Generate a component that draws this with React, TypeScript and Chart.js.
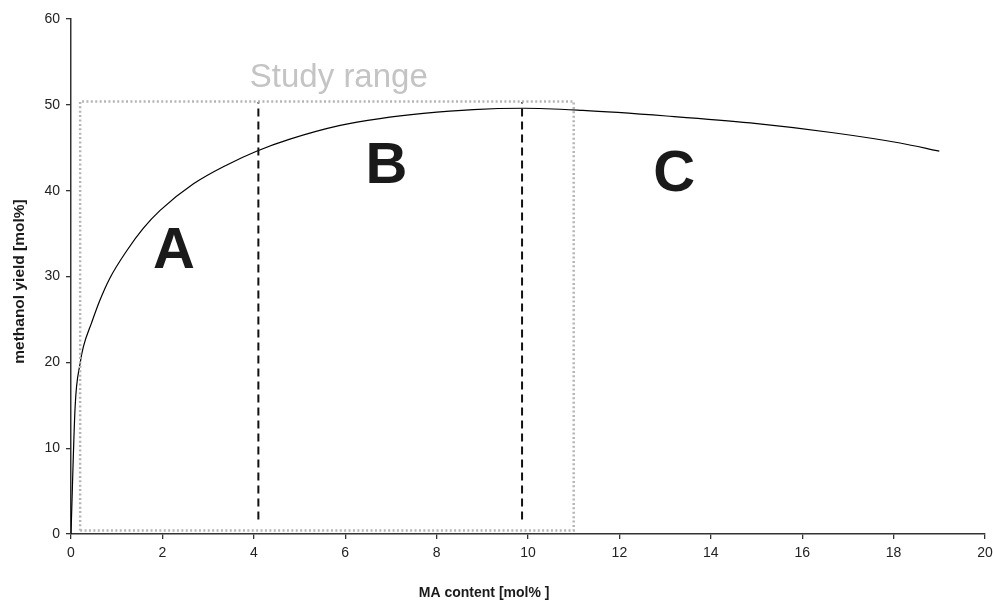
import React, { useEffect, useRef } from "react";
import { Chart, registerables } from "chart.js";

Chart.register(...registerables);

// Methanol yield versus MA content
const maContent = [0, 0.09, 0.2, 0.27, 0.45, 0.63, 0.85, 1.22, 1.58, 1.95, 2.68, 3.41, 4.06, 4.79, 5.89, 6.76, 7.71, 8.8, 9.9, 11.2, 13.03, 14.86, 16.68, 18.14, 19.0];
const methanolYield = [0, 14.8, 19.9, 21.8, 24.6, 27.2, 29.8, 33.0, 35.6, 37.7, 40.8, 43.0, 44.6, 46.0, 47.6, 48.4, 49.0, 49.45, 49.6, 49.35, 48.7, 47.9, 46.75, 45.55, 44.6];

// Boundaries between regions A/B and B/C
const regionBounds = [4.1, 9.87];
const regionLineSpan = [1.7, 50.3];

// Study range rectangle: [xMin, xMax], [yMin, yMax]
const studyRangeX = [0.2, 11];
const studyRangeY = [0.4, 50.4];

// Region labels
const regionNames = ["A", "B", "C"];
const regionLabelX = [2.25, 6.9, 13.2];
const regionLabelY = [31.0, 40.9, 40.0];

const studyLabel = "Study range";
const studyLabelPos = [5.86, 52.1];

const xTicks = [0, 2, 4, 6, 8, 10, 12, 14, 16, 18, 20];
const yTicks = [0, 10, 20, 30, 40, 50, 60];

const xTitle = "MA content [mol% ]";
const yTitle = "methanol yield [mol%]";

const FONT = "'Liberation Sans', Arial, Helvetica, sans-serif";

const annotationPlugin = {
  id: "regionText",
  afterDatasetsDraw(chart: any) {
    const { ctx, scales, chartArea } = chart;
    const xs = scales.x;
    const ys = scales.y;
    ctx.save();
    // Region letters
    ctx.fillStyle = "#1a1a1a";
    ctx.font = `bold 58px ${FONT}`;
    ctx.textAlign = "center";
    ctx.textBaseline = "alphabetic";
    regionNames.forEach((name, i) => {
      ctx.fillText(name, xs.getPixelForValue(regionLabelX[i]), ys.getPixelForValue(regionLabelY[i]));
    });
    // Study range caption
    ctx.fillStyle = "#c4c4c4";
    ctx.font = `33px ${FONT}`;
    ctx.fillText(studyLabel, xs.getPixelForValue(studyLabelPos[0]), ys.getPixelForValue(studyLabelPos[1]));
    // Axis titles
    ctx.fillStyle = "#1a1a1a";
    ctx.font = `bold 14px ${FONT}`;
    ctx.textBaseline = "middle";
    ctx.fillText(xTitle, chartArea.left + (chartArea.right - chartArea.left) * 0.452, chart.height - 8);
    ctx.save();
    ctx.translate(20, (chartArea.top + chartArea.bottom) / 2 + 5);
    ctx.rotate(-Math.PI / 2);
    ctx.font = `bold 15.5px ${FONT}`;
    ctx.fillText(yTitle, 0, 0);
    ctx.restore();
    ctx.restore();
  },
};

export default function App() {
  const canvasRef = useRef<HTMLCanvasElement>(null);

  useEffect(() => {
    if (!canvasRef.current) return;
    const curve = maContent.map((x, i) => ({ x, y: methanolYield[i] }));
    const box = [
      { x: studyRangeX[0], y: studyRangeY[0] },
      { x: studyRangeX[1], y: studyRangeY[0] },
      { x: studyRangeX[1], y: studyRangeY[1] },
      { x: studyRangeX[0], y: studyRangeY[1] },
      { x: studyRangeX[0], y: studyRangeY[0] },
    ];
    const boundaryLines = regionBounds.map((b) => ({
      data: regionLineSpan.map((y) => ({ x: b, y })),
      borderColor: "#111",
      borderWidth: 2,
      borderDash: [8, 5],
      pointRadius: 0,
      tension: 0,
      fill: false,
    }));

    const chart = new Chart(canvasRef.current, {
      type: "line",
      data: {
        datasets: [
          {
            data: box,
            borderColor: "#b5b5b5",
            borderWidth: 2.5,
            borderDash: [2, 2.4],
            pointRadius: 0,
            tension: 0,
            fill: false,
          },
          ...boundaryLines,
          {
            data: curve,
            borderColor: "#000",
            borderWidth: 1.2,
            pointRadius: 0,
            cubicInterpolationMode: "monotone",
            fill: false,
          },
        ] as any,
      },
      options: {
        animation: false,
        responsive: true,
        maintainAspectRatio: false,
        layout: { padding: { top: 19, right: 0, left: 0, bottom: 0 } },
        plugins: {
          legend: { display: false },
          tooltip: { enabled: false },
        },
        scales: {
          x: {
            type: "linear",
            min: 0,
            max: 20,
            afterBuildTicks: (scale: any) => {
              scale.ticks = xTicks.map((v) => ({ value: v }));
            },
            afterFit: (scale: any) => {
              scale.height = 67;
              scale.paddingLeft = 0;
              scale.paddingRight = 8;
            },
            ticks: {
              color: "#222",
              font: { family: FONT, size: 14 },
              padding: 6,
              maxRotation: 0,
            },
            grid: { drawOnChartArea: false, drawTicks: true, tickLength: 5, color: "#333", lineWidth: 1.3 },
            border: { color: "#333", width: 1.5 },
          },
          y: {
            type: "linear",
            min: 0,
            max: 60,
            afterBuildTicks: (scale: any) => {
              scale.ticks = yTicks.map((v) => ({ value: v }));
            },
            afterFit: (scale: any) => {
              scale.width = 71;
            },
            ticks: {
              color: "#222",
              font: { family: FONT, size: 14 },
              padding: 6,
            },
            grid: { drawOnChartArea: false, drawTicks: true, tickLength: 5, color: "#333", lineWidth: 1.3 },
            border: { color: "#333", width: 1.5 },
          },
        },
      },
      plugins: [annotationPlugin],
    });
    return () => chart.destroy();
  }, []);

  return (
    <div style={{ position: "fixed", left: 0, top: 0, width: 993, height: 601, background: "#fff" }}>
      <canvas ref={canvasRef} />
    </div>
  );
}
